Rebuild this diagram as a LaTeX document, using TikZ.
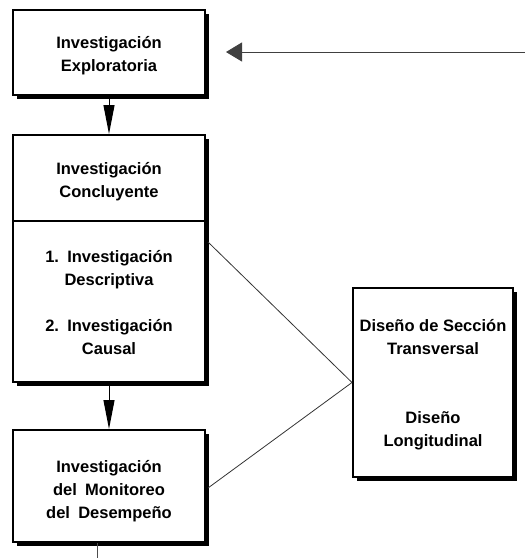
\documentclass[tikz,border=0pt]{standalone}
\usepackage{fontspec}
\setmainfont{Liberation Sans}
\usetikzlibrary{arrows.meta,shadows}
\tikzset{
  box/.style={draw=black, line width=2pt, fill=white, inner sep=0pt,
    general shadow={fill=black, shadow xshift=3.5pt, shadow yshift=-3.5pt}},
  label/.style={align=center, inner sep=0pt,
    font=\fontsize{16.5}{23}\selectfont\bfseries},
  flow/.style={line width=1pt, -{Triangle[length=29pt,width=11pt]}},
  feed/.style={line width=1pt, draw=black!75, -{Triangle[length=16pt,width=19pt]}},
  link/.style={line width=0.8pt, draw=black!80},
}
\begin{document}
\begin{tikzpicture}[x=1pt,y=-1pt]
\useasboundingbox (0,0) rectangle (525,558);

% boxes
\node[box, minimum width=192pt, minimum height=85pt]  (b1) at (109,52.5) {};
\node[box, minimum width=192pt, minimum height=247pt] (b2) at (109,258.5) {};
\node[box, minimum width=192pt, minimum height=112pt] (b3) at (109,486) {};
\node[box, minimum width=160pt, minimum height=189pt] (b4) at (433,382.5) {};

% divider inside the conclusive-research box
\coordinate (divL) at ([yshift=37.5pt]b2.west);
\coordinate (divR) at ([yshift=37.5pt]b2.east);
\draw[line width=2pt] (divL) -- (divR);

% texts
\node[label] (t1)  at (109,56)  {Investigación\\Exploratoria};
\node[label] (t2)  at (109,182) {Investigación\\Concluyente};
\node[label] (t2a) at (109,270) {1.\enspace Investigación\\Descriptiva};
\node[label] (t2b) at (109,337) {2.\enspace Investigación\\Causal};
\node[label] (t3)  at (109,491) {Investigación\\del\enspace Monitoreo\\del\enspace Desempeño};
\node[label] (t4a) at (433,337) {Diseño de Sección\\Transversal};
\node[label] (t4b) at (433,431) {Diseño\\Longitudinal};

% connectors
\draw[flow] (b1.south) -- (b2.north);
\draw[flow] (b2.south) -- (b3.north);

\coordinate (src) at (525,52);
\draw[feed, shorten >=20pt] (src) -- (src -| b1.east);

\coordinate (tail) at (97,558);
\draw[line width=1pt, draw=black!70] (b3.south -| tail) -- (tail);

\draw[link] ([xshift=2pt,yshift=16.5pt]b2.east) -- (b4.west);
\draw[link] ([xshift=2pt,yshift=-2pt]b3.east) -- (b4.west);
\end{tikzpicture}
\end{document}
